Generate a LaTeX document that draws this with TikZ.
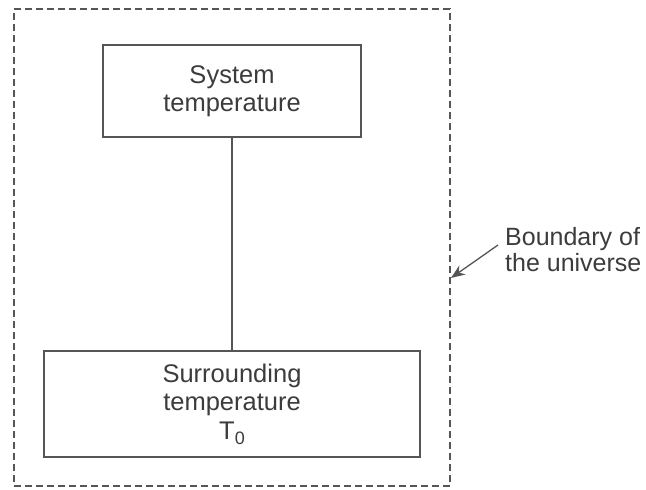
\documentclass[tikz,border=0pt]{standalone}
\usepackage{fontspec}
\setmainfont{Liberation Sans}
\usepackage{xcolor}
\usepackage{tikz}
\usetikzlibrary{positioning, arrows.meta}
\definecolor{inkgrey}{HTML}{3C3C3C}
\definecolor{edgegrey}{HTML}{555555}

\tikzset{
  tempbox/.style={draw=edgegrey, line width=1.2pt, align=center, text=inkgrey,
    font=\fontsize{25.5}{28.5}\selectfont},
  boundary/.style={draw=edgegrey, line width=1.3pt, dash pattern=on 7pt off 4pt},
}

\begin{document}
\begin{tikzpicture}[x=1pt, y=-1pt]
    \useasboundingbox (0,0) rectangle (646,490);
    \node[boundary, minimum width=436pt, minimum height=477pt] (universe) at (232,247.5) {};
    \node[tempbox, minimum width=258pt, minimum height=92pt] (sysbox) at (232,91)
      {System\\temperature};
    \node[tempbox, minimum width=376pt, minimum height=106pt] (surrbox) at (232,404)
      {Surrounding\\temperature\\T\raisebox{-5pt}{\fontsize{18}{18}\selectfont 0}};
    \draw[edgegrey, line width=1.2pt] (sysbox) -- (surrbox);
    % label of the dashed boundary
    \node[align=left, anchor=west, text=inkgrey, inner sep=7pt,
          font=\fontsize{25}{26}\selectfont] (boundlabel) at (498,250)
      {Boundary of\\the universe};
    \coordinate (tip) at (451,278);
    \draw[edgegrey, line width=1.3pt, -{Stealth[length=14pt, width=11pt]}]
      ([yshift=5pt]boundlabel.west) -- (tip);
  \end{tikzpicture}
\end{document}
